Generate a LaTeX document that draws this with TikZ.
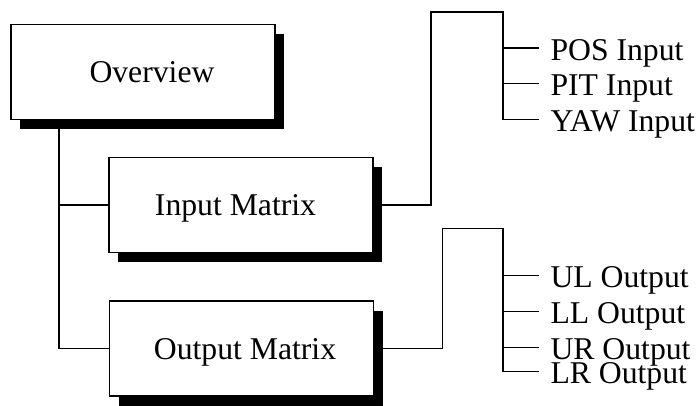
\documentclass[tikz,border=0pt]{standalone}
\usepackage{fontspec}
\setmainfont{Liberation Serif}
\usetikzlibrary{shadows}
\begin{document}
\begin{tikzpicture}[x=1pt,y=-1pt,
  every node/.style={font=\fontsize{31.7pt}{36pt}\selectfont, inner sep=0pt, outer sep=0pt},
  box/.style={draw, fill=white, line width=1.3pt, minimum width=264pt, minimum height=95pt,
    text height=21pt, text depth=0pt,
    drop shadow={shadow xshift=9pt, shadow yshift=-9.5pt, fill=black, opacity=1}},
  lab/.style={anchor=west, text height=24pt, text depth=0pt},
  conn/.style={line width=1.3pt, line join=miter}]
\useasboundingbox (0,0) rectangle (700,405);

% boxes
\node[box] (ov) at (143,71.7) {\hspace*{18pt}Overview};
\node[box] (in) at (241,205) {Input Matrix\hspace*{11pt}};
\node[box] (out) at (241.5,348.5) {\hspace*{7pt}Output Matrix};

% labels
\node[lab] (pos) at (550.5,48) {POS Input};
\node[lab] (pit) at (550.5,83.7) {PIT Input};
\node[lab] (yaw) at (550.5,119.3) {YAW Input};
\node[lab] (ul) at (550.5,275.7) {UL Output};
\node[lab] (ll) at (550.5,311.7) {LL Output};
\node[lab] (ur) at (550.5,347.7) {UR Output};
\node[lab] (lr) at (550.5,371.7) {LR Output};

% coordinates of the buses
\coordinate (t0) at ([xshift=48pt]ov.south west);
\coordinate (ib) at (503,12);
\coordinate (ob) at (503,228.3);

% left tree
\draw[conn] (t0) |- (out.west);
\draw[conn] (t0 |- in.west) -- (in.west);

% input connector
\draw[conn] (in.east) -| (431,12) -- (ib) -- (ib |- yaw.west) -- ([xshift=-12pt]yaw.west);
\draw[conn] (ib |- pos.west) -- ([xshift=-12pt]pos.west);
\draw[conn] (ib |- pit.west) -- ([xshift=-12pt]pit.west);

% output connector
\draw[conn] (out.east) -| (442.7,228.3) -- (ob) -- (ob |- lr.west) -- ([xshift=-12pt]lr.west);
\draw[conn] (ob |- ul.west) -- ([xshift=-12pt]ul.west);
\draw[conn] (ob |- ll.west) -- ([xshift=-12pt]ll.west);
\draw[conn] (ob |- ur.west) -- ([xshift=-12pt]ur.west);
\end{tikzpicture}
\end{document}
